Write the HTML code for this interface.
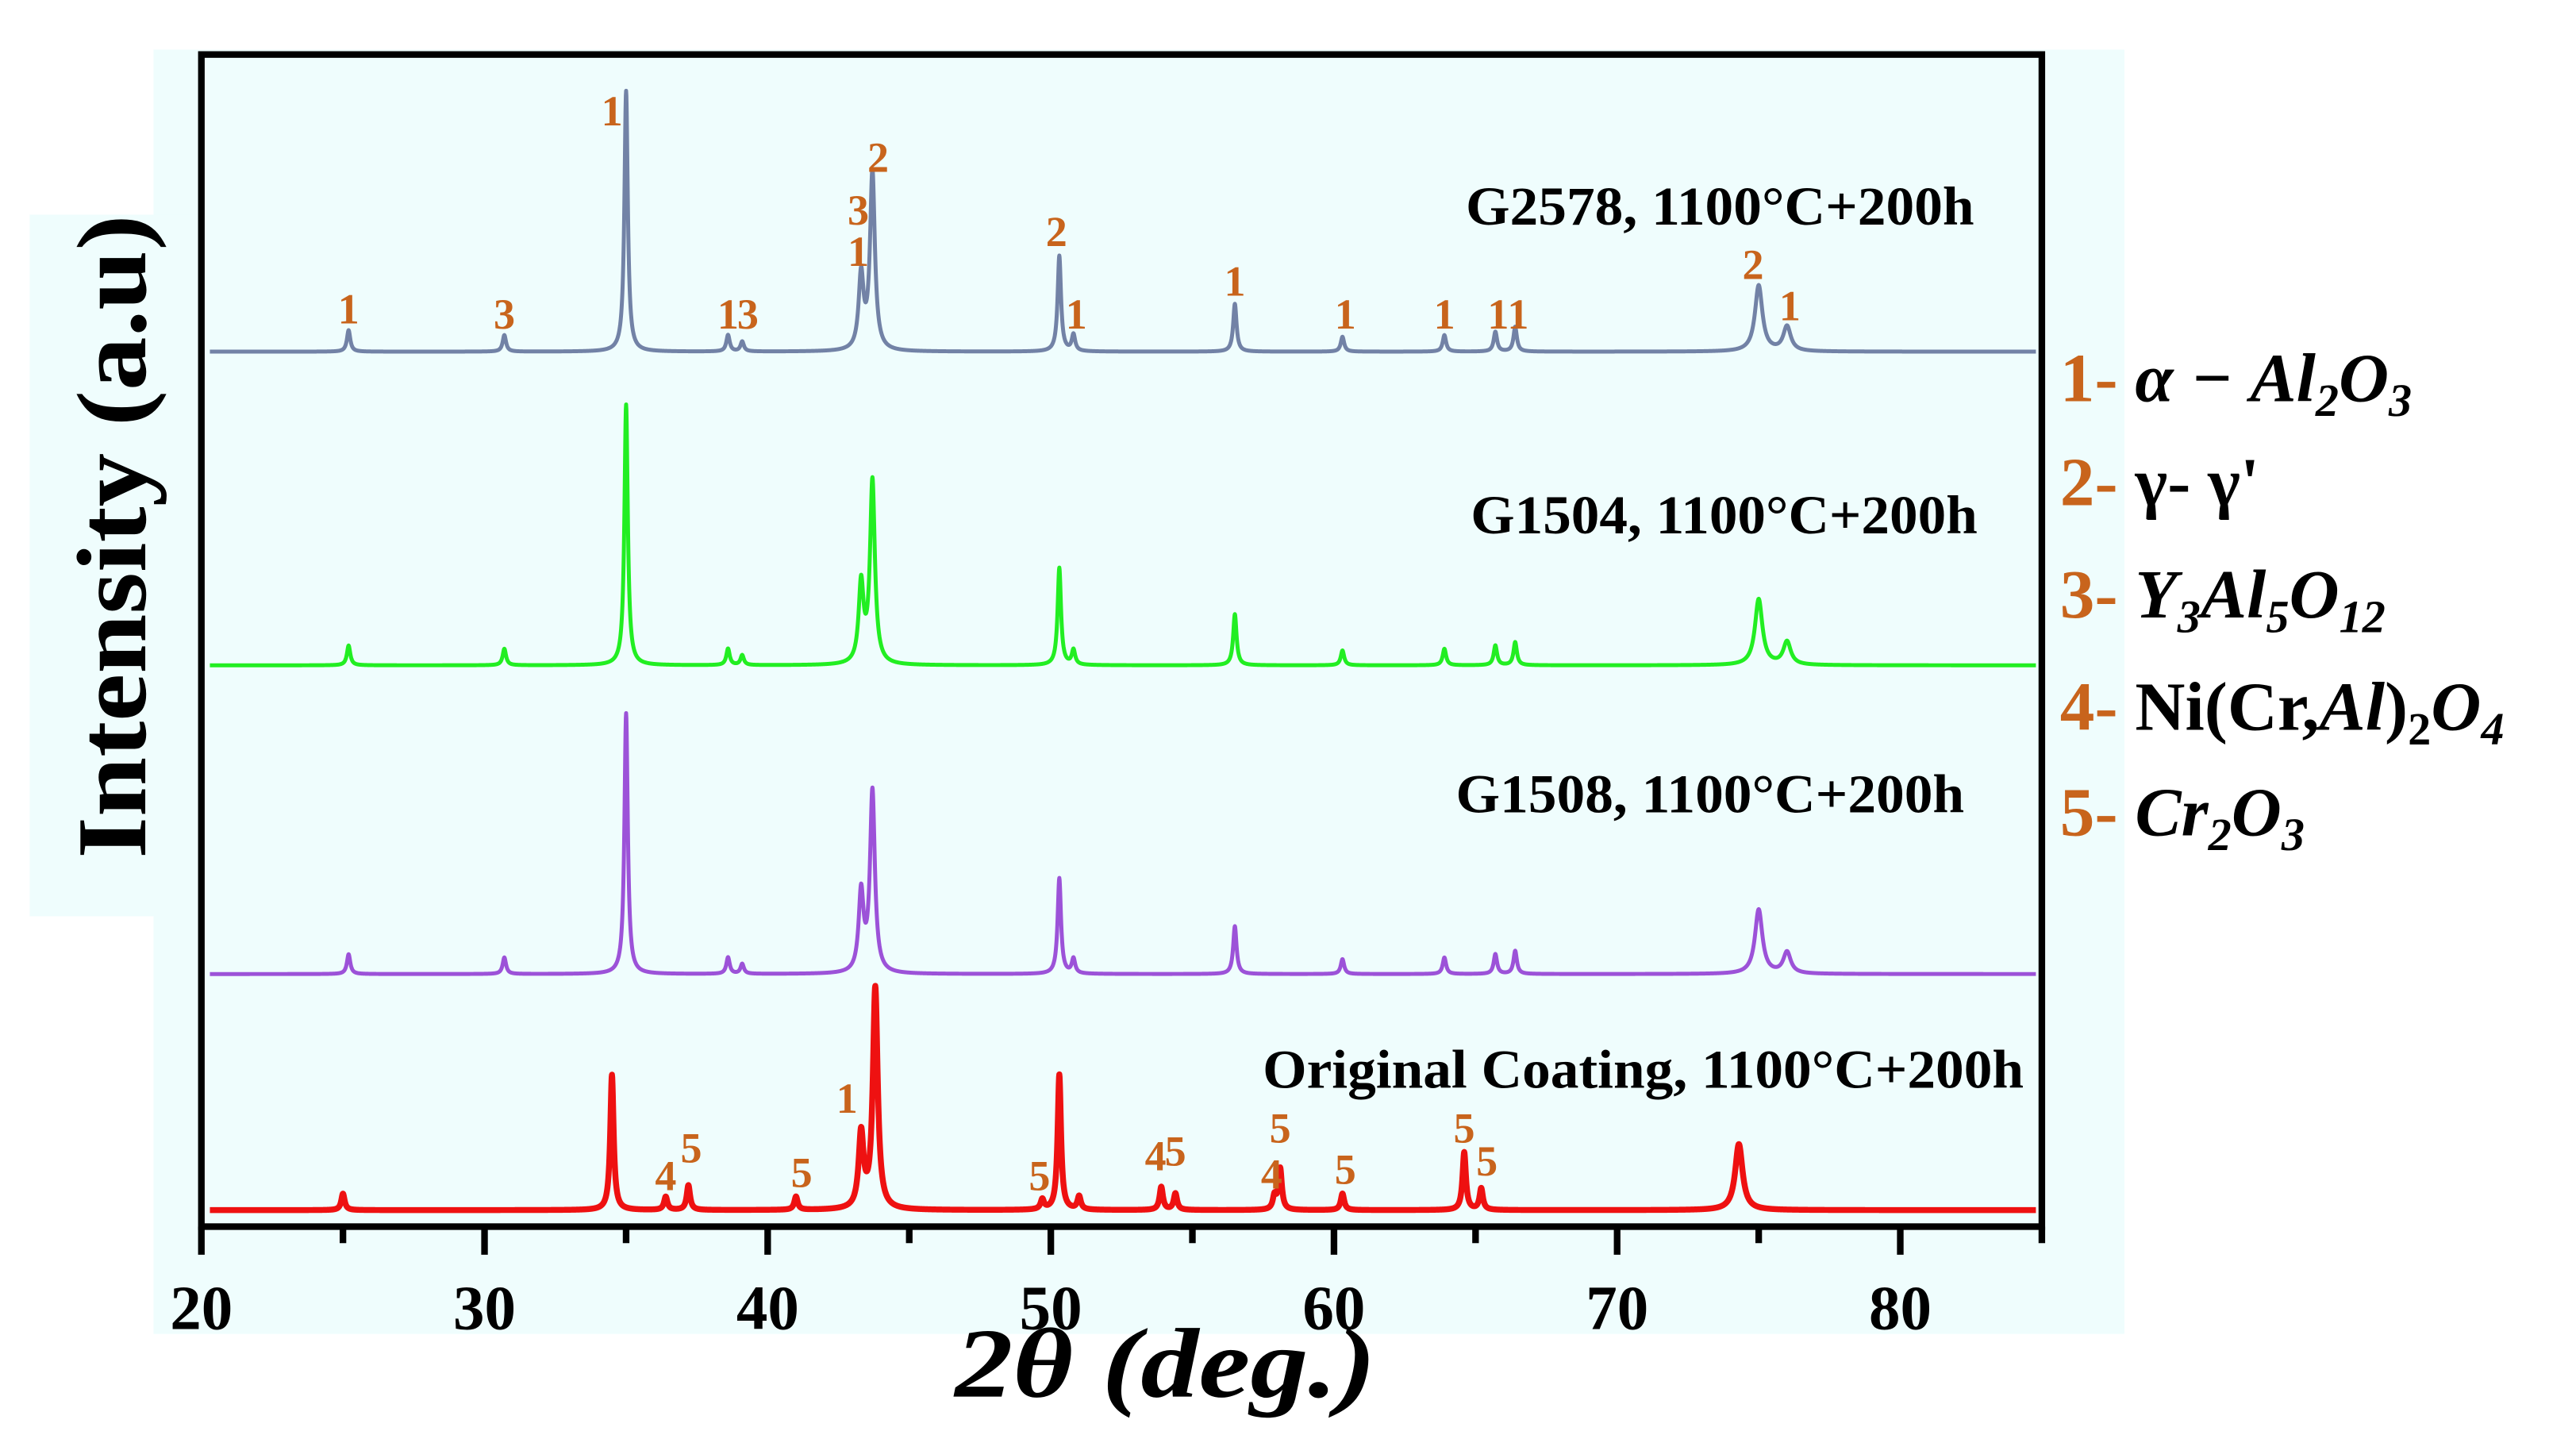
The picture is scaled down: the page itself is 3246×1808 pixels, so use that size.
<!DOCTYPE html>
<html><head><meta charset="utf-8"><style>
html,body{margin:0;padding:0;background:#fff;}
svg{display:block;}
text{font-family:"Liberation Serif",serif;}
</style></head><body>
<svg id="chart" width="3246" height="1808" viewBox="0 0 1560.6 869.2" xmlns="http://www.w3.org/2000/svg">
<rect x="93" y="30" width="1194" height="778" fill="#effdfd"/>
<rect x="18" y="130" width="104" height="425" fill="#effdfd"/>
<g id="series"></g>
<g id="annots"></g>
<rect x="122" y="33" width="1115" height="710" fill="none" stroke="#000" stroke-width="4"/>
<g id="axis"></g>
<text transform="translate(88,325) rotate(-90)" text-anchor="middle" font-size="60" font-weight="bold" fill="#000" textLength="390" lengthAdjust="spacingAndGlyphs">Intensity (a.u)</text>
<text x="706" y="846" text-anchor="middle" font-size="60" font-weight="bold" font-style="italic" fill="#000" textLength="255" lengthAdjust="spacingAndGlyphs">2θ (deg.)</text>
<g font-size="42" font-weight="bold">
<text x="1248" y="243"><tspan fill="#c8641c">1- </tspan><tspan font-style="italic">α − Al</tspan><tspan font-style="italic" font-size="28" dy="9">2</tspan><tspan font-style="italic" dy="-9">O</tspan><tspan font-style="italic" font-size="28" dy="9">3</tspan></text>
<text x="1248" y="306"><tspan fill="#c8641c">2- </tspan><tspan>γ- γ'</tspan></text>
<text x="1248" y="374"><tspan fill="#c8641c">3- </tspan><tspan font-style="italic">Y</tspan><tspan font-style="italic" font-size="28" dy="9">3</tspan><tspan font-style="italic" dy="-9">Al</tspan><tspan font-style="italic" font-size="28" dy="9">5</tspan><tspan font-style="italic" dy="-9">O</tspan><tspan font-style="italic" font-size="28" dy="9">12</tspan></text>
<text x="1248" y="442"><tspan fill="#c8641c">4- </tspan><tspan>Ni(Cr,</tspan><tspan font-style="italic">Al</tspan><tspan>)</tspan><tspan font-size="28" dy="9">2</tspan><tspan font-style="italic" dy="-9">O</tspan><tspan font-style="italic" font-size="28" dy="9">4</tspan></text>
<text x="1248" y="506"><tspan fill="#c8641c">5- </tspan><tspan font-style="italic">Cr</tspan><tspan font-style="italic" font-size="28" dy="9">2</tspan><tspan font-style="italic" dy="-9">O</tspan><tspan font-style="italic" font-size="28" dy="9">3</tspan></text>
</g>
</svg>
<script>
const NS="http://www.w3.org/2000/svg";
const xTicks=[20,30,40,50,60,70,80];
const xMinor=[25,35,45,55,65,75,85];
const seriesNames=["G2578, 1100°C+200h","G1504, 1100°C+200h","G1508, 1100°C+200h","Original Coating, 1100°C+200h"];
const seriesColors=["#7282a6","#22ee22","#9c52d8","#ee1111"];
const offsets=[520,330,143,0];
const g2578Pos=[25.2,30.7,35.0,38.6,39.1,43.3,43.7,50.3,50.8,56.5,60.3,63.9,65.7,66.4,75.0,76.0];
const g2578Int=[13,10,158,10,6,45,108,58,10,29,9,10,12,15,40,15];
const g1504Pos=[25.2,30.7,35.0,38.6,39.1,43.3,43.7,50.3,50.8,56.5,60.3,63.9,65.7,66.4,75.0,76.0];
const g1504Int=[12,10,158,10,6,48,111,59,9,31,9,10,12,14,40,14];
const g1508Pos=[25.2,30.7,35.0,38.6,39.1,43.3,43.7,50.3,50.8,56.5,60.3,63.9,65.7,66.4,75.0,76.0];
const g1508Int=[12,10,158,10,6,48,110,58,9,29,9,10,12,14,39,13];
const origPos=[25.0,34.5,36.4,37.2,41.0,43.3,43.8,49.7,50.3,51.0,53.9,54.4,57.9,58.1,60.3,64.6,65.2,74.3];
const origInt=[10,82,8,15,8,45,134,6,82,8,14,10,8,25,10,35,13,40];
const peakPos=[g2578Pos,g1504Pos,g1508Pos,origPos];
const peakInt=[g2578Int,g1504Int,g1508Int,origInt];
const labelCenters=[[1196,125],[1198,312],[1190,481],[1226,648]];
const labelWidths=[308,307,308,461];
const annG2578X=[25.2,30.7,34.5,38.6,39.3,43.2,43.2,43.9,50.2,50.9,56.5,60.4,63.9,65.8,66.5,74.8,76.1];
const annG2578T=["1","3","1","1","3","3","1","2","2","1","1","1","1","1","1","2","1"];
const annG2578H=[26,23,146,23,23,86,61,118,73,23,43,23,23,23,23,53,28];
const annOrigX=[36.4,37.3,41.2,42.8,49.6,53.7,54.4,57.8,58.1,60.4,64.6,65.4];
const annOrigT=["4","5","5","1","5","4","5","4","5","5","5","5"];
const annOrigH=[21,38,23,68,21,33,36,22,50,25,50,30];

const X0=122,X1=1237,D0=20,D1=85;
function xs(d){return X0+(d-D0)/(D1-D0)*(X1-X0);}
const BASE=733;
function ys(v,off){return BASE-off-v;}

const sg=document.getElementById('series');
for(let s=0;s<4;s++){
  let pts=[];
  for(let x=20.3;x<=84.8;x+=0.01){
    let v=0;
    for(let k=0;k<peakPos[s].length;k++){
      const c=peakPos[s][k];const w=(c>74?0.2:(c>43&&c<44?0.13:0.09));
      const t=(x-c)/w;v+=peakInt[s][k]/(1+t*t*1.6);
    }
    pts.push(xs(x).toFixed(2)+","+ys(v,offsets[s]).toFixed(2));
  }
  const p=document.createElementNS(NS,'polyline');
  
  
  p.setAttribute('points',pts.join(' '));
  p.setAttribute('fill','none');
  p.setAttribute('stroke',seriesColors[s]);
  p.setAttribute('stroke-width',s==3?3.6:2.4);
  p.setAttribute('stroke-linejoin','round');
  sg.appendChild(p);
  const t=document.createElementNS(NS,'text');
  
  
  t.setAttribute('x',labelCenters[s][0]-labelWidths[s]);t.setAttribute('y',labelCenters[s][1]+11);
  t.setAttribute('font-size','33');t.setAttribute('font-weight','bold');
  t.setAttribute('textLength',labelWidths[s]);t.setAttribute('lengthAdjust','spacingAndGlyphs');
  t.textContent=seriesNames[s];sg.appendChild(t);
}
const ag=document.getElementById('annots');
function ann(xa,ta,ha,off,name){
  for(let i=0;i<xa.length;i++){
    const t=document.createElementNS(NS,'text');
    
    
    t.setAttribute('x',xs(xa[i]));t.setAttribute('y',ys(ha[i],off)+9);
    t.setAttribute('text-anchor','middle');t.setAttribute('font-size','26');t.setAttribute('font-weight','bold');
    t.setAttribute('fill','#c8641c');t.textContent=ta[i];ag.appendChild(t);
  }
}
ann(annG2578X,annG2578T,annG2578H,offsets[0],'peak-label-g2578');
ann(annOrigX,annOrigT,annOrigH,offsets[3],'peak-label-original');
const ax=document.getElementById('axis');
xTicks.forEach(v=>{
  const l=document.createElementNS(NS,'line');
  
  
  l.setAttribute('x1',xs(v));l.setAttribute('x2',xs(v));l.setAttribute('y1',743);l.setAttribute('y2',760);
  l.setAttribute('stroke','#000');l.setAttribute('stroke-width',4);ax.appendChild(l);
  const t=document.createElementNS(NS,'text');
  
  
  t.setAttribute('x',xs(v));t.setAttribute('y',805);t.setAttribute('text-anchor','middle');
  t.setAttribute('font-size','38');t.setAttribute('font-weight','bold');t.textContent=v;ax.appendChild(t);
});
xMinor.forEach(v=>{
  const l=document.createElementNS(NS,'line');
  
  
  l.setAttribute('x1',xs(v));l.setAttribute('x2',xs(v));l.setAttribute('y1',743);l.setAttribute('y2',753);
  l.setAttribute('stroke','#000');l.setAttribute('stroke-width',4);ax.appendChild(l);
});
</script>
</body></html>
